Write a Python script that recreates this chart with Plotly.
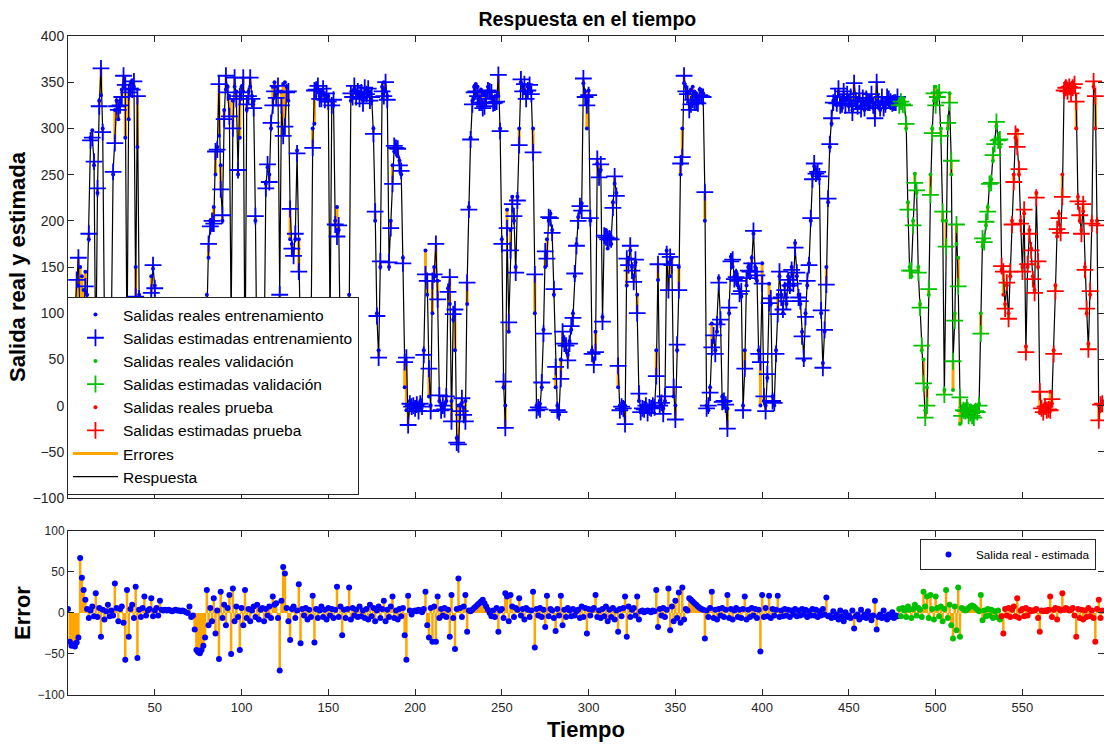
import plotly.graph_objects as go

# ---------------- data ----------------
# real output per time step (t = 0 .. 596)
real = [
    30, 10, 5, 20, 60, 100, 130, 150, 140, 125,
    145, 120, 180, 290, 298, 260, 60, 230, 330, 336,
    300, 80, 10, 5, 30, 90, 250, 320, 330, 310,
    330, 342, 345, 290, 80, 310, 348, 352, 345, 150,
    280, 120, 5, 0, 3, 8, 2, 40, 140, 148,
    130, 60, 5, 0, 2, 5, 0, 3, 2, 0,
    5, 2, 0, 4, 3, 0, 2, 5, 3, 0,
    10, 5, 2, 20, 40, 60, 50, 30, 40, 60,
    120, 160, 200, 190, 215, 250, 280, 292, 260, 200,
    320, 342, 345, 335, 40, 330, 345, 340, 250, 290,
    345, 340, 60, 320, 340, 345, 335, 330, 200, 30,
    5, 0, 10, 40, 240, 258, 250, 300, 345, 350,
    345, 340, 50, 340, 348, 350, 345, 330, 180, 175,
    170, 180, 276, 180, 30, 5, 0, 0, 10, 20,
    60, 300, 305, 347, 340, 335, 340, 338, 335, 330,
    335, 80, 330, 325, 200, 215, 190, 60, 10, 0,
    5, 20, 120, 330, 340, 343, 338, 335, 340, 335,
    330, 338, 342, 335, 340, 330, 300, 200, 100, 60,
    150, 345, 350, 340, 335, 150, 200, 260, 275, 282,
    270, 265, 250, 160, 20, -5, 0, 5, -3, 2,
    0, 3, -2, 5, 0, 60, 168, 120, 10, 0,
    100, 150, 140, 135, 5, 0, -3, 2, 5, 127,
    110, 5, 93, 60, -35, 0, 0, 3, -2, 5,
    110, 215, 290, 330, 345, 348, 345, 340, 342, 338,
    336, 340, 345, 340, 335, 330, 323, 335, 335, 300,
    180, 20, 0, 212, 80, 190, 226, 200, 150, 226,
    300, 350, 345, 340, 338, 345, 342, 340, 300, 100,
    0, -5, 2, 20, 82, 150, 180, 200, 208, 190,
    120, 20, 0, -10, 50, 65, 71, 60, 55, 70,
    82, 100, 140, 175, 204, 210, 219, 349, 340, 300,
    341, 200, 60, 50, 80, 262, 250, 255, 96, 180,
    190, 170, 185, 175, 220, 240, 230, 20, 0, -5,
    3, 0, 130, 160, 168, 150, 140, 155, 120, 5,
    -5, 0, -3, 2, -5, 0, -2, 3, 0, 60,
    136, 5, 0, -3, 5, 168, 155, 140, 160, 10,
    0, 60, 150, 250, 300, 349, 345, 340, 338, 342,
    345, 340, 338, 335, 342, 340, 338, 200, 0, -5,
    20, 89, 70, 60, 80, 138, 90, 10, 0, 5,
    -3, 100, 161, 150, 140, 145, 130, 125, 118, 0,
    60, 130, 150, 140, 160, 186, 150, 135, 60, 0,
    154, 5, 0, 30, 132, 110, 10, 0, 60, 120,
    140, 120, 100, 130, 110, 140, 125, 150, 130, 176,
    140, 120, 110, 80, 49, 100, 130, 154, 200, 250,
    259, 255, 248, 250, 100, 46, 80, 150, 220, 280,
    305, 330, 330, 325, 335, 328, 322, 330, 326, 332,
    324, 328, 320, 330, 326, 322, 330, 325, 328, 320,
    326, 330, 324, 328, 322, 326, 330, 324, 320, 328,
    325, 322, 326, 330, 324, 328, 322, 325, 330, 330,
    325, 332, 328, 300, 220, 150, 140, 200, 251, 230,
    150, 110, 60, 50, -5, 20, 120, 250, 300, 330,
    345, 340, 335, 300, 200, 17, 200, 300, 338, 250,
    17, 100, 175, 160, -20, -5, 0, -3, 2, -5,
    0, -2, -5, 0, -3, 2, 100, 172, 180, 195,
    215, 237, 245, 265, 285, 302, 290, 280, 147, 120,
    110, 130, 100, 140, 200, 250, 290, 298, 250, 200,
    150, 208, 64, 150, 190, 170, 140, 125, 230, 150,
    -8, 0, -5, 2, -3, 0, 15, 2, 60, 130,
    183, 208, 190, 250, 345, 350, 345, 348, 342, 350,
    345, 300, 226, 200, 190, 210, 150, 100, 67, 120,
    200, 345, 300, 200, 0, -5, 5,
]

# error = real - estimated, per time step
err = [
    5, -35, -40, -38, -41, -36, -30, 67, 43, 28,
    16, 5, -6, 3, 8, -4, 24, -5, 6, -29,
    4, -8, 2, 10, -4, 3, -3, 36, 6, -10,
    5, 8, -12, -57, 28, -29, 5, 10, -6, 32,
    -55, 4, -5, 6, 20, -3, 3, 5, 18, -4,
    3, 6, -3, 15, 4, 3, 4, 3, 4, 3,
    2, 3, 4, 3, 3, 2, 3, 2, 1, 0,
    8, -5, -3, -20, -45, -48, -49, -45, -40, -30,
    28, -15, 6, -10, 18, -25, 3, -56, 26, -6,
    10, -15, 6, 22, -50, 30, -10, 8, -5, -45,
    6, -15, 28, -6, 5, -10, 3, 8, -5, 10,
    -8, 4, 6, -10, 5, -3, 8, -6, 20, 10,
    12, -6, -70, 15, 56, 48, 6, -10, -33, 5,
    8, -6, 3, 35, -37, 5, -3, 6, -8, 4,
    -5, 21, -36, 5, -6, 3, 8, -5, 4, -8,
    6, -3, 5, -6, 4, 32, -5, 8, -27, 4,
    -6, 5, 31, -8, 6, -3, 4, -5, 8, -4,
    3, -6, 5, -8, 10, -4, 6, -10, 3, 8,
    -6, 5, 15, -10, 4, -5, 8, 20, -6, 3,
    -8, 5, -4, 6, -27, -57, 21, 3, -2, 2,
    3, 2, 4, 3, 1, 5, 26, -15, -30, 6,
    -35, 8, -35, 20, -6, 5, -3, 6, -5, 4,
    -29, 22, -6, -44, 5, 42, 6, -5, 8, 22,
    -23, 3, 2, 4, 6, 8, 10, 12, 14, 16,
    12, 8, 4, 0, -4, 3, -5, 6, -23, 3,
    5, -6, 24, 20, -10, 22, 8, -5, 6, 4,
    18, -3, 5, -8, 6, 4, -5, 3, 26, -42,
    5, -3, 6, -5, 4, -17, 21, -4, 5, 3,
    -6, -22, 5, -3, 21, -15, 4, -5, 6, 3,
    -4, 5, -3, 2, 4, -6, 8, -5, 6, -25,
    5, -3, 4, 6, 22, -5, 3, -6, 5, -4,
    8, -10, 4, -5, 6, -8, 3, -23, 5, -4,
    6, 20, -29, 8, -5, 4, 6, -3, 20, -8,
    2, 3, 1, 2, 3, 2, 1, 3, 2, 28,
    -17, 5, -3, 6, -5, 4, 30, -21, 8, -10,
    15, -6, 25, -12, 31, -8, 5, 3, 18, 16,
    14, 12, 10, 8, 6, 5, 4, -31, 3, -5,
    6, 26, -6, 4, -8, 5, -3, 6, -5, 4,
    22, -6, 5, -8, 3, 6, -5, 4, -6, 5,
    20, -8, 4, -5, 6, -3, 5, -6, 4, -47,
    22, -5, 6, -4, 21, -6, 5, -3, 4, 21,
    -5, 3, -4, 5, -3, 4, -5, 3, -2, 5,
    -4, 3, -3, 5, -2, 4, -5, 2, -3, 5,
    -3, 4, -5, 2, -3, 5, -2, 19, -4, -3,
    -6, 2, -5, -2, -8, 3, -4, -10, 1, -5,
    -3, -6, 3, -19, -4, -2, -8, 4, -5, -2,
    -6, 2, -4, -9, -3, 15, -20, -5, -2, -6,
    3, -4, -8, -2, -5, 1, -6, -3, -4, 5,
    -4, 6, 3, -5, 8, 4, -6, 5, 10, -3,
    6, 4, -5, 26, 8, 20, -6, 22, 5, -8,
    20, 6, -4, 8, -10, 5, 28, -6, 10, -15,
    -31, 8, -21, 31, -29, 6, 5, 3, 4, 6,
    8, 9, 8, 6, 4, 2, 22, -9, 3, -4,
    5, -3, 4, -6, 2, -5, 3, -8, -4, -25,
    5, -3, 6, -5, 4, 8, -4, 18, -6, 3,
    5, -4, 6, -3, 4, 2, 3, 3, 5, -6,
    -23, 3, 2, 3, 2, 4, 20, -5, 4, 6,
    -8, 5, 3, 24, 4, 6, 5, 3, 4, 6,
    -3, -29, 5, -6, 4, -8, 3, -5, 6, -4,
    3, -6, -35, 5, 16, -6, 3,
]

seg_names = ["entrenamiento", "validación", "prueba"]
seg_starts = [0, 479, 538]
seg_colors = ["#0000FF", "#00C000", "#FF0000"]

x_ticks = [50, 100, 150, 200, 250, 300, 350, 400, 450, 500, 550]
y1_ticks = [-100, -50, 0, 50, 100, 150, 200, 250, 300, 350, 400]
y2_ticks = [-100, -50, 0, 50, 100]

# ---------------- derived ----------------
n = min(len(real), len(err))
real = real[:n]
err = err[:n]
t = list(range(n))
est = [r - e for r, e in zip(real, err)]
seg_ends = seg_starts[1:] + [n]

ORANGE = "#FFA500"
FONT = "Liberation Sans, Arial, Helvetica, sans-serif"
AX = "#262626"

fig = go.Figure()

# errors in the top panel: vertical segments between real and estimated
ex, ey = [], []
for ti, r, s in zip(t, real, est):
    ex += [ti, ti, None]
    ey += [r, s, None]
fig.add_trace(go.Scatter(x=ex, y=ey, mode="lines", name="Errores",
                         line=dict(color=ORANGE, width=3), legendrank=7,
                         xaxis="x", yaxis="y", legend="legend"))
fig.add_trace(go.Scatter(x=t, y=est, mode="lines", name="Respuesta",
                         line=dict(color="black", width=1.2), legendrank=8,
                         xaxis="x", yaxis="y", legend="legend"))

rank = 1
for name, a, b, col in zip(seg_names, seg_starts, seg_ends, seg_colors):
    fig.add_trace(go.Scatter(x=t[a:b], y=real[a:b], mode="markers",
                             name="Salidas reales " + name,
                             marker=dict(color=col, size=4, symbol="circle"),
                             legendrank=rank, xaxis="x", yaxis="y", legend="legend"))
    fig.add_trace(go.Scatter(x=t[a:b], y=est[a:b], mode="markers",
                             name="Salidas estimadas " + name,
                             marker=dict(symbol="cross-thin", size=12,
                                         line=dict(color=col, width=1.8)),
                             legendrank=rank + 1, xaxis="x", yaxis="y", legend="legend"))
    rank += 2

# bottom panel: error stems + dots
sx, sy = [], []
for ti, e in zip(t, err):
    sx += [ti, ti, None]
    sy += [0, e, None]
fig.add_trace(go.Scatter(x=sx, y=sy, mode="lines", showlegend=False,
                         line=dict(color=ORANGE, width=2.5),
                         xaxis="x2", yaxis="y2"))
for i, (name, a, b, col) in enumerate(zip(seg_names, seg_starts, seg_ends, seg_colors)):
    fig.add_trace(go.Scatter(x=t[a:b], y=err[a:b], mode="markers",
                             name="Salida real - estimada",
                             showlegend=(i == 0),
                             marker=dict(color=col, size=6),
                             xaxis="x2", yaxis="y2", legend="legend2"))

axis_common = dict(showgrid=False, zeroline=False, showline=True, linecolor=AX,
                   linewidth=1, mirror="ticks", ticks="inside", ticklen=6,
                   tickcolor=AX, automargin=False,
                   tickfont=dict(family=FONT, color=AX))

fig.update_layout(
    width=1104, height=746,
    margin=dict(l=68, r=0, t=36, b=51),
    paper_bgcolor="white", plot_bgcolor="white",
    font=dict(family=FONT, color=AX),
    title=dict(text="<b>Respuesta en el tiempo</b>", x=0.532, xanchor="center",
               y=1 - 19 / 746, yanchor="middle", yref="container",
               font=dict(family=FONT, size=19.5, color="black")),
    xaxis=dict(axis_common, domain=[0, 1], range=[0, 597], anchor="y",
               tickvals=x_ticks, showticklabels=False),
    yaxis=dict(axis_common, domain=[0.2989, 1], range=[-100, 400], anchor="x",
               tickvals=y1_ticks, tickfont=dict(family=FONT, color=AX, size=14),
               title=dict(text="<b>Salida real y estimada</b>", standoff=0,
                          font=dict(family=FONT, size=22, color="black"))),
    xaxis2=dict(axis_common, domain=[0, 1], range=[0, 597], anchor="y2",
                tickvals=x_ticks, tickfont=dict(family=FONT, color=AX, size=13),
                title=dict(text="<b>Tiempo</b>", standoff=8,
                           font=dict(family=FONT, size=22, color="black"))),
    yaxis2=dict(axis_common, domain=[0, 0.2489], range=[-100, 100], anchor="x2",
                tickvals=y2_ticks, tickfont=dict(family=FONT, color=AX, size=12),
                title=dict(text="<b>Error</b>", standoff=0,
                           font=dict(family=FONT, size=22, color="black"))),
    legend=dict(x=-0.001, y=(695 - 297) / 659, xanchor="left", yanchor="top",
                bgcolor="white", bordercolor=AX, borderwidth=1,
                font=dict(family=FONT, size=15.5, color="black"),
                itemwidth=45, traceorder="normal"),
    legend2=dict(x=(920 - 68) / 1036, y=(695 - 539) / 659, xanchor="left",
                 yanchor="top", bgcolor="white", bordercolor=AX, borderwidth=1,
                 font=dict(family=FONT, size=11.7, color="black"), itemwidth=45),
)

fig.write_html(
    "out.html",
    config={"displayModeBar": False},
    post_script="document.body.style.margin='0';document.body.style.overflow='hidden';",
)
